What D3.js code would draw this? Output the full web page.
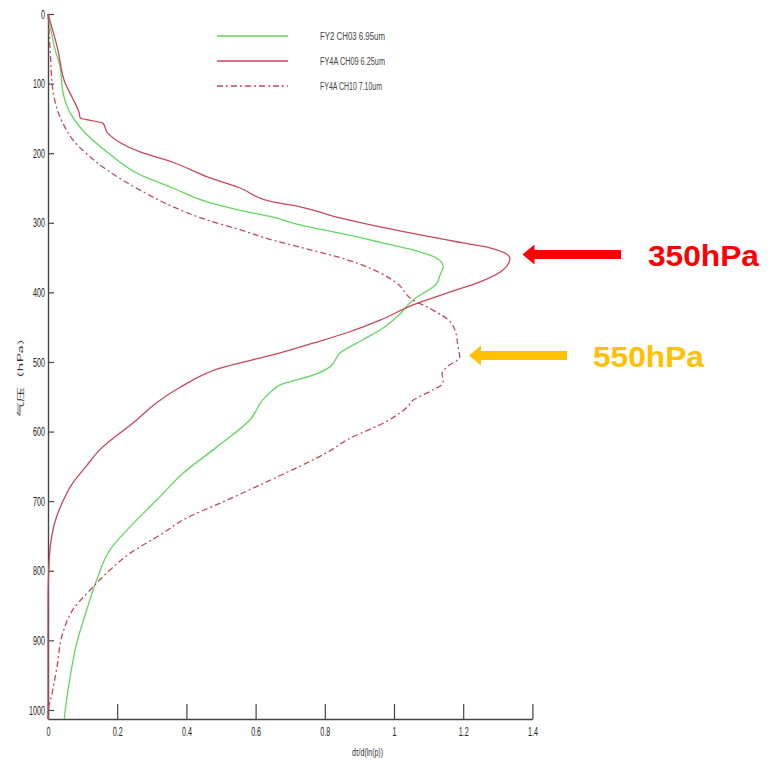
<!DOCTYPE html>
<html>
<head>
<meta charset="utf-8">
<script src="https://cdn.jsdelivr.net/npm/d3@7"></script>
<style>
  body { margin: 0; background: #fff; }
  svg { display: block; }
</style>
</head>
<body>
<script>
// weighting function curves
var xTicks = [0, 0.2, 0.4, 0.6, 0.8, 1, 1.2, 1.4];
var yTicks = [0, 100, 200, 300, 400, 500, 600, 700, 800, 900, 1000];

var seriesNames = ["FY2  CH03 6.95um", "FY4A CH09 6.25um", "FY4A CH10 7.10um"];

// FY2 CH03 (green)
var ch03P = [0, 50, 76, 100, 109, 142, 167, 198, 231, 250, 270, 282, 292, 303, 315, 328, 339, 351, 363, 375, 387, 411, 435, 454, 468, 487, 507, 519, 533, 545, 552, 583, 622, 660, 698, 737, 770, 813, 856, 904, 952, 1004, 1013];
var ch03V = [0, 0.02, 0.035, 0.04, 0.042, 0.064, 0.1, 0.17, 0.266, 0.361, 0.46, 0.555, 0.65, 0.728, 0.844, 0.96, 1.055, 1.124, 1.142, 1.133, 1.124, 1.055, 1.009, 0.96, 0.91, 0.844, 0.815, 0.766, 0.671, 0.64, 0.625, 0.584, 0.488, 0.39, 0.315, 0.237, 0.179, 0.141, 0.112, 0.083, 0.064, 0.049, 0.047];

// FY4A CH09 (red solid)
var ch09P = [0, 50, 100, 120, 142, 149, 157, 170, 198, 213, 234, 250, 270, 277, 293, 306, 329, 336, 351, 368, 385, 401, 418, 440, 458, 473, 487, 509, 537, 566, 583, 626, 650, 675, 698, 730, 760, 800, 850, 1013];
var ch09V = [0, 0.028, 0.05, 0.07, 0.09, 0.093, 0.159, 0.171, 0.266, 0.361, 0.46, 0.555, 0.65, 0.728, 0.844, 0.96, 1.2, 1.277, 1.335, 1.315, 1.249, 1.153, 1.055, 0.96, 0.864, 0.766, 0.671, 0.497, 0.38, 0.295, 0.257, 0.15, 0.11, 0.07, 0.045, 0.02, 0.008, 0.002, 0, 0];

// FY4A CH10 (red dash-dot)
var ch10P = [0, 50, 100, 109, 157, 181, 205, 224, 253, 277, 296, 310, 325, 335, 353, 372, 387, 411, 423, 442, 454, 478, 493, 507, 516, 530, 540, 555, 565, 585, 612, 626, 672, 701, 727, 746, 775, 799, 828, 856, 889, 938, 976, 1004, 1013];
var ch10V = [0, 0.006, 0.012, 0.014, 0.043, 0.072, 0.121, 0.17, 0.266, 0.361, 0.46, 0.555, 0.65, 0.728, 0.864, 0.96, 1.009, 1.055, 1.104, 1.162, 1.176, 1.185, 1.19, 1.153, 1.139, 1.142, 1.113, 1.055, 1.038, 0.98, 0.864, 0.82, 0.633, 0.506, 0.39, 0.332, 0.237, 0.179, 0.121, 0.072, 0.043, 0.026, 0.012, 0, 0];

// annotations
var peakLabels = ["350hPa", "550hPa"];
var peakLevels = [350, 550];

var svgWidth = 773;
var svgHeight = 761;

var svg = d3.select("body")
  .append("svg")
  .attr("width", svgWidth)
  .attr("height", svgHeight);

var xScale = d3.scaleLinear().domain([0, 1.4]).range([48, 532.4]);
var yScale = d3.scaleLinear().domain([0, 1013]).range([14, 719]);

// squash axis text like the original (narrow font)
function squash(sel, s) {
  sel.each(function() {
    var t = d3.select(this);
    var x = +t.attr("x") || 0, y = +t.attr("y") || 0;
    t.attr("transform", `translate(${x},${y}) scale(${s},1)`).attr("x", 0).attr("y", 0);
  });
}

var xAxis = d3.axisBottom(xScale)
  .tickValues(xTicks)
  .tickFormat(d => String(d))
  .tickSizeInner(-15)
  .tickSizeOuter(0)
  .tickPadding(8);

var yAxis = d3.axisLeft(yScale)
  .tickValues(yTicks)
  .tickFormat(d => String(d))
  .tickSizeInner(-6)
  .tickSizeOuter(0)
  .tickPadding(3);

var gx = svg.append("g")
  .attr("transform", "translate(0,719)")
  .call(xAxis);
var gy = svg.append("g")
  .attr("transform", "translate(48,0)")
  .call(yAxis);

[gx, gy].forEach(function(g) {
  g.select(".domain").attr("stroke", "#444").attr("stroke-width", 1.4);
  g.selectAll(".tick line").attr("stroke", "#444").attr("stroke-width", 1.2);
  g.selectAll("text")
    .attr("fill", "#222")
    .style("font-family", "'Liberation Sans', Arial, sans-serif")
    .style("font-size", "13px");
});
squash(gx.selectAll("text"), 0.55);
squash(gy.selectAll("text"), 0.55);

// axis titles
svg.append("text")
  .attr("x", 352).attr("y", 756)
  .attr("textLength", 31).attr("lengthAdjust", "spacingAndGlyphs")
  .style("font-family", "'Liberation Sans', Arial, sans-serif")
  .style("font-size", "10px")
  .attr("fill", "#333")
  .text("dτ/d(ln(p))");

svg.append("text")
  .attr("transform", "translate(23,417) rotate(-90)")
  .attr("textLength", 87).attr("lengthAdjust", "spacingAndGlyphs")
  .style("font-family", "'Noto Sans CJK SC', sans-serif")
  .style("font-size", "7px")
  .attr("fill", "#333")
  .text("气压（hPa）");

// curves
var series = [
  { p: ch03P, v: ch03V, color: "#63d663", dash: null },
  { p: ch09P, v: ch09V, color: "#c8475a", dash: null },
  { p: ch10P, v: ch10V, color: "#c8475a", dash: "6,3,2,3" }
];

var line = d3.line()
  .x(d => xScale(d[0]))
  .y(d => yScale(d[1]))
  .curve(d3.curveMonotoneY);

series.forEach(function(s) {
  var pts = s.p.map((p, i) => [s.v[i], p]);
  svg.append("path")
    .datum(pts)
    .attr("d", line)
    .attr("fill", "none")
    .attr("stroke", s.color)
    .attr("stroke-width", 1.3)
    .attr("stroke-dasharray", s.dash);
});

// legend
var legend = svg.append("g");
series.forEach(function(s, i) {
  var y = 36 + i * 25;
  legend.append("line")
    .attr("x1", 217).attr("x2", 288)
    .attr("y1", y).attr("y2", y)
    .attr("stroke", s.color)
    .attr("stroke-width", 1.3)
    .attr("stroke-dasharray", s.dash);
  legend.append("text")
    .attr("x", 320).attr("y", y + 3.5)
    .attr("textLength", i == 2 ? 62 : 65).attr("lengthAdjust", "spacingAndGlyphs")
    .style("font-family", "'Liberation Sans', Arial, sans-serif")
    .style("font-size", "10px")
    .attr("fill", "#444")
    .text(seriesNames[i]);
});

// arrows pointing at the peaks
var arrowColors = ["#ff0000", "#ffc000"];
var arrowTips = [522.5, 469];
var arrowEnds = [621, 567];
var labelX = [648, 593];

peakLevels.forEach(function(lev, i) {
  var cy = i == 0 ? 254.5 : 355.5;
  var tip = arrowTips[i];
  var base = tip + 12;
  svg.append("polygon")
    .attr("points", [
      [tip, cy], [base, cy - 10], [base, cy - 4.6], [arrowEnds[i], cy - 4.6],
      [arrowEnds[i], cy + 4.6], [base, cy + 4.6], [base, cy + 10]
    ].map(p => p.join(",")).join(" "))
    .attr("fill", arrowColors[i]);
  svg.append("text")
    .attr("x", labelX[i]).attr("y", cy + 11.5)
    .attr("textLength", 111).attr("lengthAdjust", "spacingAndGlyphs")
    .style("font-family", "'Liberation Sans', Arial, sans-serif")
    .style("font-size", "29px")
    .style("font-weight", "bold")
    .attr("fill", arrowColors[i])
    .text(peakLabels[i]);
});
</script>
</body>
</html>
